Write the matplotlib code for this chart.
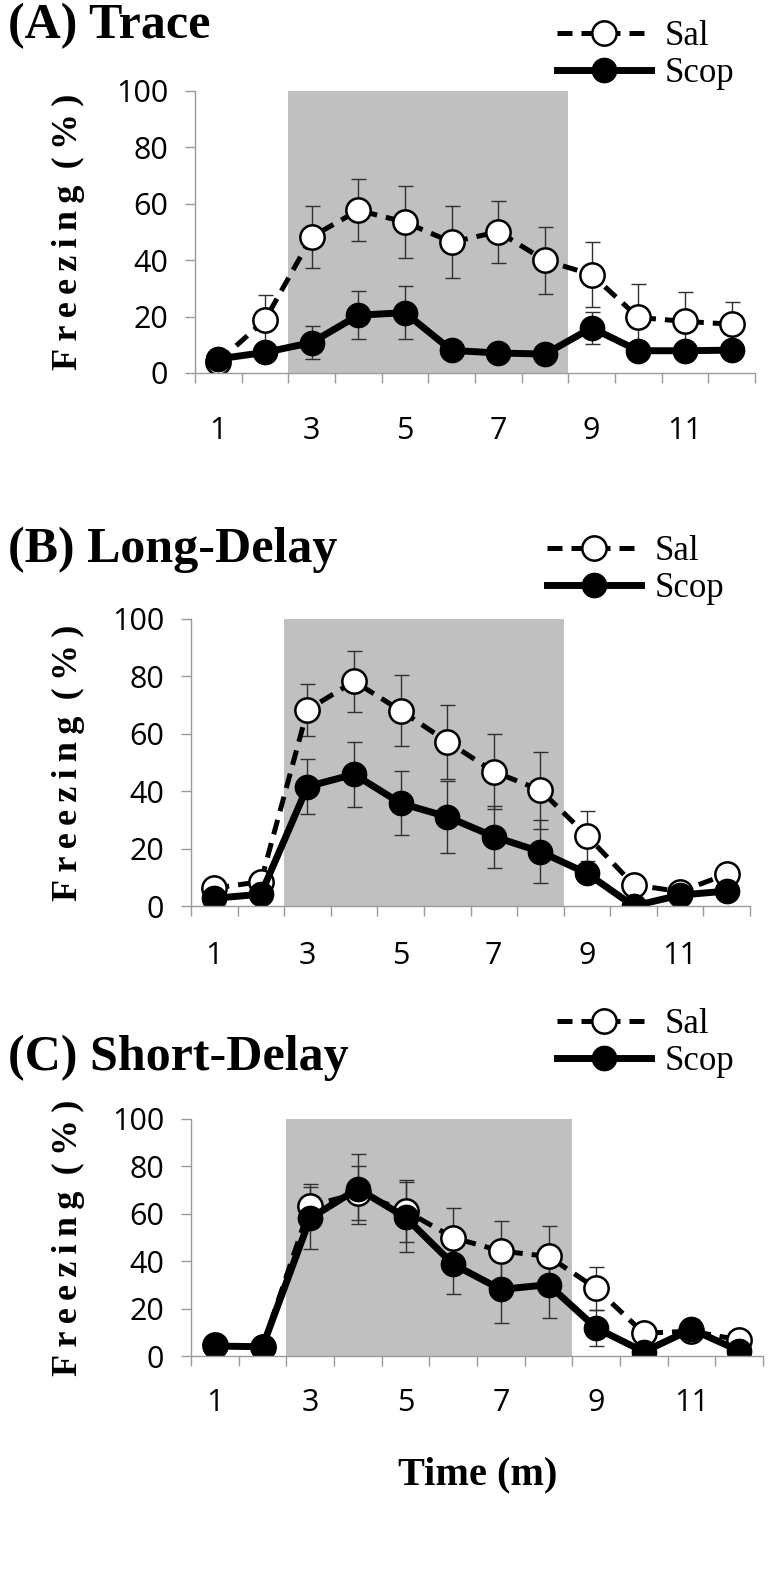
import numpy as np
import matplotlib
matplotlib.use('Agg')
import matplotlib.pyplot as plt

# Minutes (category axis)
minutes = np.arange(1, 13)
tick_minutes = [1, 3, 5, 7, 9, 11]

# (A) Trace
trace_sal = [4, 18.8, 48.3, 57.7, 53.5, 46.4, 50.1, 39.9, 34.9, 19.7, 18.3, 17.3]
trace_sal_se = [2, 8.8, 11, 11, 12.7, 12.7, 11, 12, 11.6, 11.8, 10.3, 7.8]
trace_scop = [5, 7.3, 10.8, 20.5, 21.4, 8.0, 7.1, 6.7, 16.0, 7.9, 7.9, 8.1]
trace_scop_se = [1, 2, 6, 8.5, 9.5, 2, 1.5, 1.5, 5.7, 2, 2, 2]

# (B) Long-Delay
long_sal = [6.2, 8.5, 68.3, 78.3, 68.1, 57.3, 46.8, 40.4, 24.5, 7.4, 5.0, 11.1]
long_sal_se = [2, 3, 9, 10.7, 12.3, 12.9, 13, 13.4, 8.7, 2, 2, 3.5]
long_scop = [2.7, 4.1, 41.6, 45.9, 35.8, 31.1, 24.2, 18.9, 11.4, 0, 3.8, 5.2]
long_scop_se = [1, 1.5, 9.7, 11.4, 11.2, 12.5, 10.8, 11, 3, 1, 2, 2]

# (C) Short-Delay
short_sal = [4.5, 3.8, 63.4, 68.6, 61.3, 49.9, 44.3, 42.0, 28.5, 9.6, 10.5, 6.8]
short_sal_se = [1, 1, 9, 11.4, 13, 12.4, 12.7, 13, 9, 2, 4.3, 2]
short_scop = [4.2, 3.9, 58.1, 70.6, 58.5, 38.7, 28.1, 30.1, 11.8, 1.8, 11.3, 2.2]
short_scop_se = [1, 1, 13, 14.7, 14.8, 12.5, 14, 14.2, 7.5, 1, 4.5, 1.5]

titles = ['(A) Trace', '(B) Long-Delay', '(C) Short-Delay']

W, H = 773, 1587
fig = plt.figure(figsize=(W / 100, H / 100), dpi=100)

serif = ['Liberation Serif', 'DejaVu Serif']
sans = 'Open Sans'
grey = '#9a9a9a'


def fx(x):
    return x / W


def fy(y):
    return 1 - y / H


# pixel boxes: left, top, right, bottom ; title baseline ; legend top-left ; xlabel pad
layout = [
    (195, 91, 755, 373, 38, (557, 20), 31),
    (191, 619, 750, 906, 562, (547, 535), 25),
    (191, 1119, 763, 1356, 1070, (557, 1008), 23),
]
data = [
    (trace_sal, trace_sal_se, trace_scop, trace_scop_se),
    (long_sal, long_sal_se, long_scop, long_scop_se),
    (short_sal, short_sal_se, short_scop, short_scop_se),
]

ylabel = '\u2009'.join('Freezing') + ' \u2009' + '\u2009'.join('(%)')

for (l, t, r, b, title_y, leg_xy, xpad), (sal, sal_se, scop, scop_se), title in zip(layout, data, titles):
    ax = fig.add_axes([fx(l), fy(b), fx(r) - fx(l), fy(t) - fy(b)])
    ax.axvspan(2.5, 8.5, color='#c0c0c0', lw=0, zorder=0)

    ax.errorbar(minutes, sal, yerr=sal_se, fmt='none', ecolor='#303030',
                elinewidth=1.0, capsize=5.4, capthick=1.0, zorder=2)
    ax.errorbar(minutes, scop, yerr=scop_se, fmt='none', ecolor='#303030',
                elinewidth=1.0, capsize=5.4, capthick=1.0, zorder=2)
    h_sal, = ax.plot(minutes, sal, color='black', lw=3.6, linestyle=(0, (3, 1.8)),
                     marker='o', markersize=17.5, markerfacecolor='white',
                     markeredgecolor='black', markeredgewidth=1.8, zorder=3, label='Sal')
    h_scop, = ax.plot(minutes, scop, color='black', lw=5, marker='o', markersize=17.5,
                      markerfacecolor='black', markeredgecolor='black', zorder=4, label='Scop')

    ax.set_xlim(0.5, 12.5)
    ax.set_ylim(0, 100)
    ax.set_yticks(np.arange(0, 101, 20))
    ax.set_xticks(np.arange(0.5, 12.6, 1))
    ax.set_xticklabels([])
    ax.set_xticks(tick_minutes, minor=True)
    ax.set_xticklabels([str(m) for m in tick_minutes], minor=True)
    ax.tick_params(axis='x', which='major', length=7.2, width=1, color=grey, direction='out')
    ax.tick_params(axis='x', which='minor', length=0, pad=xpad, labelsize=22)
    ax.tick_params(axis='y', length=7.2, width=1, color=grey, pad=12, labelsize=22)
    for lab in ax.get_xticklabels(minor=True) + ax.get_yticklabels():
        lab.set_fontfamily(sans)
    for side in ['top', 'right']:
        ax.spines[side].set_visible(False)
    for side in ['left', 'bottom']:
        ax.spines[side].set_color(grey)
        ax.spines[side].set_linewidth(1)
    ax.spines['bottom'].set_zorder(5)

    fig.text(fx(8), fy(title_y), title, family=serif, fontweight='bold',
             fontsize=36, ha='left', va='baseline')
    fig.text(fx(68), fy((t + b) / 2), ylabel, family=serif,
             fontweight='bold', fontsize=26, rotation=90, ha='center', va='center')

    ax.legend([h_sal, h_scop], ['Sal', 'Scop'], loc='upper left',
              bbox_to_anchor=(fx(leg_xy[0]), fy(leg_xy[1])), bbox_transform=fig.transFigure,
              frameon=False, prop={'family': serif, 'size': 25}, handlelength=2.7,
              handletextpad=0.4, labelspacing=0.12, borderpad=0, borderaxespad=0)

fig.text(fx(478), fy(1484), 'Time (m)', family=serif, fontweight='bold',
         fontsize=29, ha='center', va='baseline')

fig.savefig('out.png', dpi=100)
